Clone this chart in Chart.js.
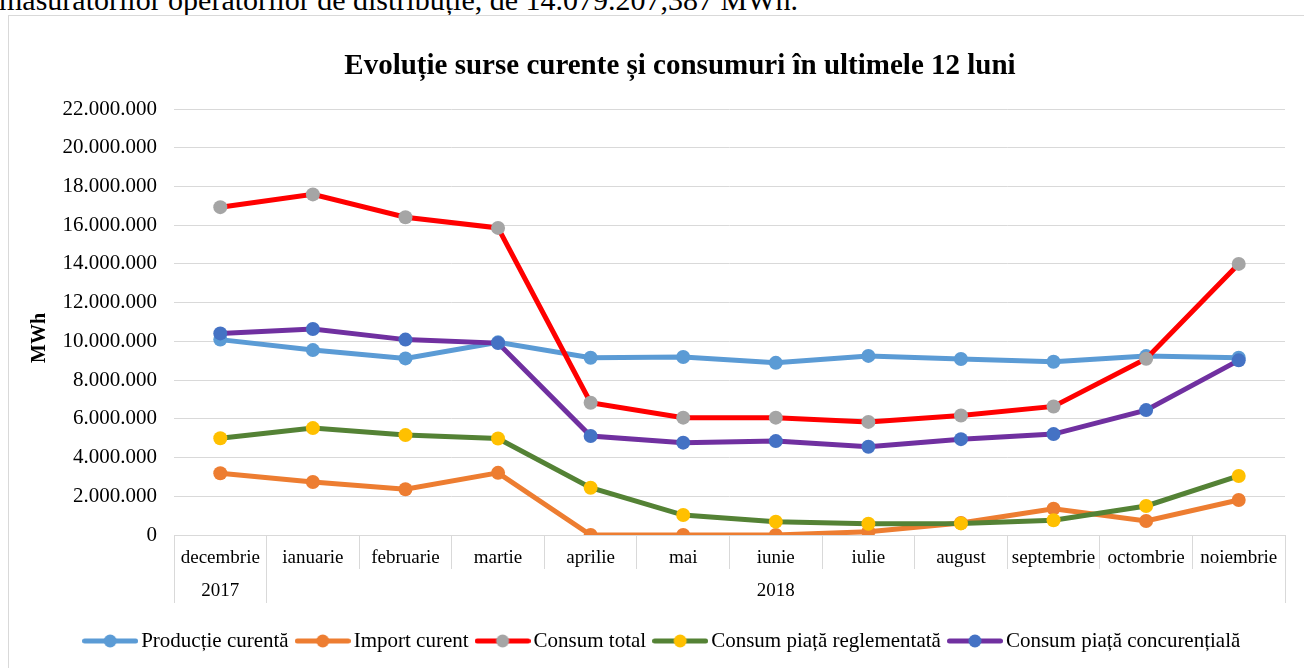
<!DOCTYPE html>
<html>
<head>
<meta charset="utf-8">
<script src="https://cdn.jsdelivr.net/npm/chart.js@4.4.1/dist/chart.umd.min.js"></script>
<style>
  body { margin: 0; background: #fff; overflow: hidden; width: 1304px; height: 668px; position: relative; }
  #intro { position: absolute; left: -1px; top: -17px; font: 30px/34px "Liberation Serif", "Times New Roman", serif; color: #000; white-space: nowrap; }
  #frame { position: absolute; left: 8px; top: 15px; width: 1310px; height: 670px; border: 1px solid #D9D9D9; box-sizing: border-box; background: #fff; }
  #chart { position: absolute; left: 0; top: 0; }
</style>
</head>
<body>
<div id="intro">măsurătorilor operatorilor de distribuție, de 14.079.207,387 MWh.</div>
<div id="frame"><canvas id="chart" width="1295" height="653"></canvas></div>
<script>
// Luni si ani
var months = ["decembrie", "ianuarie", "februarie", "martie", "aprilie", "mai", "iunie", "iulie", "august", "septembrie", "octombrie", "noiembrie"];
var years = ["2017", "", "", "", "", "", "2018", "", "", "", "", ""];

// Valori in MWh
var productieCurenta = [10090000, 9550000, 9120000, 9950000, 9150000, 9190000, 8890000, 9250000, 9090000, 8950000, 9240000, 9160000];
var importCurent = [3190000, 2740000, 2360000, 3210000, 0, 0, 0, 170000, 620000, 1360000, 720000, 1810000];
var consumTotal = [16930000, 17590000, 16410000, 15860000, 6830000, 6060000, 6060000, 5840000, 6170000, 6640000, 9100000, 14000000];
var consumReglementat = [5000000, 5520000, 5160000, 4980000, 2440000, 1030000, 690000, 580000, 600000, 760000, 1500000, 3050000];
var consumConcurential = [10410000, 10640000, 10090000, 9910000, 5110000, 4770000, 4850000, 4560000, 4950000, 5210000, 6450000, 9020000];

var yMax = 22000000;
var yStep = 2000000;

var seriesNames = ["Producție curentă", "Import curent", "Consum total", "Consum piață reglementată", "Consum piață concurențială"];
var lineColors = ["#5B9BD5", "#ED7D31", "#FF0000", "#548235", "#7030A0"];
var markerColors = ["#5B9BD5", "#ED7D31", "#A5A5A5", "#FFC000", "#4472C4"];
var seriesData = [productieCurenta, importCurent, consumTotal, consumReglementat, consumConcurential];

var serif = '"Liberation Serif", "Times New Roman", serif';
var gridColor = "#D9D9D9";

function formatNumber(v) {
    return String(v).replace(/\B(?=(\d{3})+(?!\d))/g, ".");
}

// Simbol legenda: linie cu marker
function legendSymbol(lineColor, markerColor) {
    var c = document.createElement("canvas");
    c.width = 56;
    c.height = 16;
    var g = c.getContext("2d");
    g.strokeStyle = lineColor;
    g.lineWidth = 5;
    g.lineCap = "round";
    g.beginPath();
    g.moveTo(2.5, 8);
    g.lineTo(53.5, 8);
    g.stroke();
    g.fillStyle = markerColor;
    g.beginPath();
    g.arc(28, 8, 6.5, 0, Math.PI * 2);
    g.fill();
    return c;
}

var datasets = seriesData.map(function (d, i) {
    return {
        label: seriesNames[i],
        data: d,
        borderColor: lineColors[i],
        backgroundColor: markerColors[i],
        pointBackgroundColor: markerColors[i],
        pointBorderColor: markerColors[i],
        pointBorderWidth: 0,
        pointRadius: 7,
        pointHoverRadius: 7,
        borderWidth: 5,
        tension: 0,
        fill: false,
        order: -i,
    };
});

// Titlul axei Y (putin sub mijloc, ca in original)
var yTitlePlugin = {
    id: "yTitle",
    afterDraw: function (chart) {
        var ctx = chart.ctx;
        var area = chart.chartArea;
        ctx.save();
        ctx.translate(31, (area.top + area.bottom) / 2 + 16);
        ctx.rotate(-Math.PI / 2);
        ctx.font = "bold 20px " + serif;
        ctx.fillStyle = "#000";
        ctx.textAlign = "center";
        ctx.textBaseline = "middle";
        ctx.fillText("MWh", 0, 0);
        ctx.restore();
    },
};

// Legenda si titlul sunt putin spre dreapta in original
var shiftBoxes = {
    id: "shiftBoxes",
    afterLayout: function (chart) {
        chart.legend.left += 18;
        chart.legend.right += 18;
        chart.titleBlock.left += 33;
        chart.titleBlock.right += 33;
    },
};

var ctx = document.getElementById("chart").getContext("2d");
var chart = new Chart(ctx, {
    type: "line",
    data: { labels: months, datasets: datasets },
    plugins: [yTitlePlugin, shiftBoxes],
    options: {
        responsive: false,
        animation: false,
        devicePixelRatio: 1,
        layout: { padding: { left: 0, right: 19, top: 0, bottom: 7.5 } },
        plugins: {
            tooltip: { enabled: false },
            title: {
                display: true,
                text: "Evoluție surse curente și consumuri în ultimele 12 luni",
                color: "#000",
                font: { family: serif, size: 29, weight: "bold" },
                padding: { top: 33.6, bottom: 24.6 },
            },
            legend: {
                position: "bottom",
                labels: {
                    usePointStyle: true,
                    pointStyleWidth: 41,
                    padding: 13.5,
                    color: "#000",
                    font: { family: serif, size: 21 },
                    generateLabels: function (chart) {
                        return chart.data.datasets.map(function (ds, i) {
                            return {
                                text: ds.label,
                                fillStyle: markerColors[i],
                                strokeStyle: lineColors[i],
                                lineWidth: 0,
                                hidden: false,
                                datasetIndex: i,
                                pointStyle: legendSymbol(lineColors[i], markerColors[i]),
                                fontColor: "#000",
                            };
                        });
                    },
                },
            },
        },
        scales: {
            x: {
                type: "category",
                position: "bottom",
                weight: 0,
                offset: true,
                border: { display: false },
                grid: {
                    offset: true,
                    drawOnChartArea: false,
                    drawTicks: true,
                    tickLength: 34,
                    color: gridColor,
                    lineWidth: 1,
                },
                ticks: {
                    autoSkip: false,
                    maxRotation: 0,
                    minRotation: 0,
                    padding: -22.4,
                    color: "#000",
                    font: { family: serif, size: 19 },
                },
                afterFit: function (scale) { scale.height = 34; },
            },
            x2: {
                type: "category",
                position: "bottom",
                weight: 1,
                labels: years,
                offset: true,
                border: { display: false },
                grid: {
                    offset: true,
                    drawOnChartArea: false,
                    drawTicks: true,
                    tickLength: 34,
                    lineWidth: 1,
                    color: function (c) {
                        if (c.type !== "tick") return gridColor;
                        return (c.index === 0 || c.index === 1) ? gridColor : "rgba(0,0,0,0)";
                    },
                },
                ticks: {
                    autoSkip: false,
                    maxRotation: 0,
                    minRotation: 0,
                    padding: -23.4,
                    color: "#000",
                    font: { family: serif, size: 19 },
                },
                afterFit: function (scale) { scale.height = 48; },
            },
            y: {
                min: 0,
                max: yMax,
                border: { display: false },
                grid: { color: gridColor, lineWidth: 1, drawTicks: false },
                ticks: {
                    stepSize: yStep,
                    padding: 17,
                    color: "#000",
                    font: { family: serif, size: 21 },
                    callback: function (v) { return formatNumber(v); },
                },
                afterFit: function (scale) { scale.width = 165; },
            },
        },
    },
});
</script>
</body>
</html>
